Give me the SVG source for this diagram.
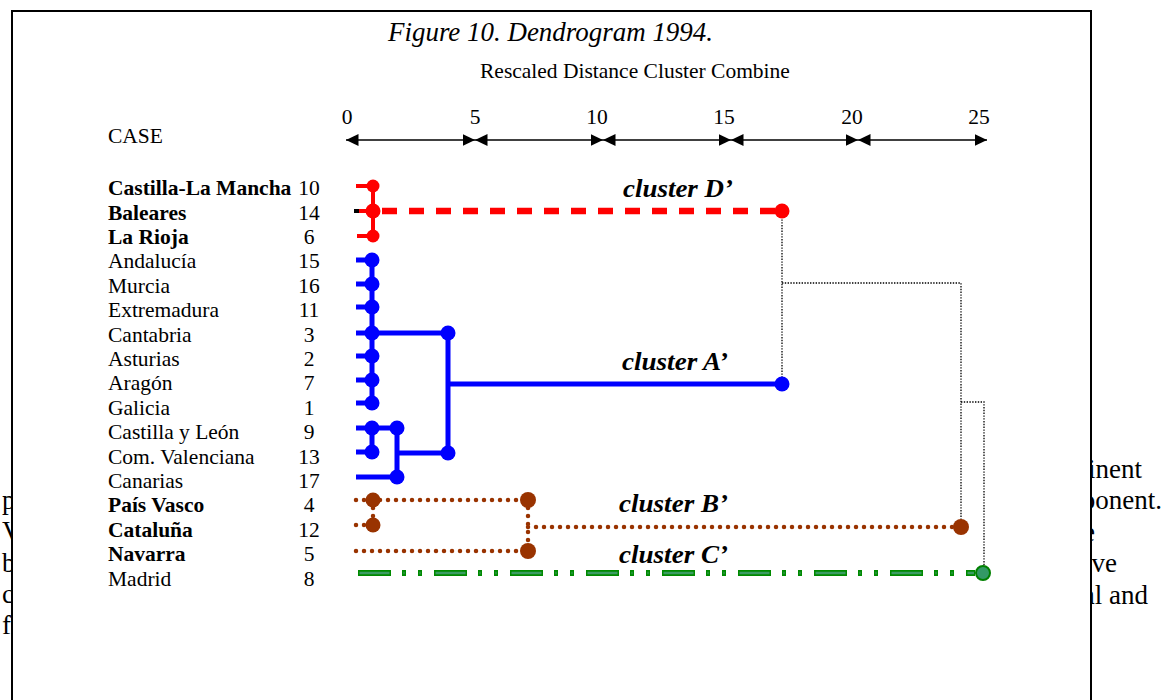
<svg xmlns="http://www.w3.org/2000/svg" width="1167" height="700" viewBox="0 0 1167 700">
<defs>
<style>
text{font-family:"Liberation Serif","Times New Roman",serif;fill:#000}
.bg{font-size:27px}
.lbl{font-size:21.5px}
.b{font-weight:bold}
.num{font-size:21.5px;text-anchor:middle}
.cl{font-size:25px;font-weight:bold;font-style:italic}
.ax{stroke:#000;stroke-width:1.6;fill:none;marker-start:url(#ah);marker-end:url(#ah)}
.blue{stroke:#0000ff;stroke-width:5;fill:none}
.bdot{fill:#0000ff}
.red{stroke:#ff0000;stroke-width:4;fill:none}
.rdot{fill:#ff0000}
.brown{stroke:#993300;stroke-width:4.5;fill:none;stroke-dasharray:0 8;stroke-linecap:round}
.brdot{fill:#993300}
.link{stroke:#000;stroke-width:1.3;fill:none;stroke-dasharray:1.4 1.4}
</style>
<marker id="ah" markerUnits="userSpaceOnUse" markerWidth="13" markerHeight="13" refX="12.5" refY="6.5" orient="auto-start-reverse" viewBox="0 0 13 13">
<path d="M0,0.5 L12.5,6.5 L0,12.5 z" fill="#000"/>
</marker>
</defs>
<rect width="1167" height="700" fill="#fff"/>
<g id="page-text" class="bg">
<text x="1142" y="478" text-anchor="end">inent</text>
<text x="2" y="509">p</text>
<text x="1162" y="509" text-anchor="end">ponent.</text>
<text x="2" y="540">V</text>
<text x="1083" y="541">e</text>
<text x="2" y="572">b</text>
<text x="1117" y="572" text-anchor="end">ve</text>
<text x="2" y="603">c</text>
<text x="1148" y="604" text-anchor="end">al and</text>
<text x="2" y="634">f</text>
</g>
<rect id="frame" x="12" y="11" width="1079" height="720" fill="#fff" stroke="#000" stroke-width="2"/>
<g id="titles">
<text x="388" y="41" style="font-size:26.5px;font-style:italic" textLength="325" lengthAdjust="spacingAndGlyphs">Figure 10. Dendrogram 1994.</text>
<text x="480" y="78" class="lbl">Rescaled Distance Cluster Combine</text>
<text x="108" y="143" class="lbl">CASE</text>
</g>
<g id="axis">
<line class="ax" x1="346" y1="140" x2="475" y2="140"/>
<line class="ax" x1="475" y1="140" x2="603" y2="140"/>
<line class="ax" x1="603" y1="140" x2="731" y2="140"/>
<line class="ax" x1="731" y1="140" x2="858" y2="140"/>
<line class="ax" x1="858" y1="140" x2="987" y2="140"/>
<text class="num" x="347" y="124">0</text>
<text class="num" x="475" y="124">5</text>
<text class="num" x="597" y="124">10</text>
<text class="num" x="724" y="124">15</text>
<text class="num" x="852" y="124">20</text>
<text class="num" x="979" y="124">25</text>
</g>
<g id="cases">
<g id="case-10"><text class="lbl b" x="108" y="195">Castilla-La Mancha</text><text class="num" x="309" y="195">10</text></g>
<g id="case-14"><text class="lbl b" x="108" y="219.6">Baleares</text><text class="num" x="309" y="219.6">14</text></g>
<g id="case-6"><text class="lbl b" x="108" y="244">La Rioja</text><text class="num" x="309" y="244">6</text></g>
<g id="case-15"><text class="lbl" x="108" y="268.3">Andalucía</text><text class="num" x="309" y="268.3">15</text></g>
<g id="case-16"><text class="lbl" x="108" y="292.7">Murcia</text><text class="num" x="309" y="292.7">16</text></g>
<g id="case-11"><text class="lbl" x="108" y="317.1">Extremadura</text><text class="num" x="309" y="317.1">11</text></g>
<g id="case-3"><text class="lbl" x="108" y="341.5">Cantabria</text><text class="num" x="309" y="341.5">3</text></g>
<g id="case-2"><text class="lbl" x="108" y="365.9">Asturias</text><text class="num" x="309" y="365.9">2</text></g>
<g id="case-7"><text class="lbl" x="108" y="390.3">Aragón</text><text class="num" x="309" y="390.3">7</text></g>
<g id="case-1"><text class="lbl" x="108" y="414.7">Galicia</text><text class="num" x="309" y="414.7">1</text></g>
<g id="case-9"><text class="lbl" x="108" y="439.1">Castilla y León</text><text class="num" x="309" y="439.1">9</text></g>
<g id="case-13"><text class="lbl" x="108" y="463.5">Com. Valenciana</text><text class="num" x="309" y="463.5">13</text></g>
<g id="case-17"><text class="lbl" x="108" y="487.9">Canarias</text><text class="num" x="309" y="487.9">17</text></g>
<g id="case-4"><text class="lbl b" x="108" y="512.3">País Vasco</text><text class="num" x="309" y="512.3">4</text></g>
<g id="case-12"><text class="lbl b" x="108" y="536.7">Cataluña</text><text class="num" x="309" y="536.7">12</text></g>
<g id="case-5"><text class="lbl b" x="108" y="561.1">Navarra</text><text class="num" x="309" y="561.1">5</text></g>
<g id="case-8"><text class="lbl" x="108" y="585.5">Madrid</text><text class="num" x="309" y="585.5">8</text></g>
</g>
<g id="connectors">
<polyline class="link" points="782,211 782,384"/>
<polyline class="link" points="782,283 961,283 961,527"/>
<polyline class="link" points="961,402 984,402 984,573"/>
</g>
<g id="cluster-D">
<line x1="354" y1="211" x2="360" y2="211" stroke="#000" stroke-width="4"/>
<path class="red" d="M356,186H373M359,211H373M357,236H373M373,186V236"/>
<line x1="382" y1="211" x2="776" y2="211" stroke="#ff0000" stroke-width="6.5" stroke-dasharray="15 12"/>
<circle class="rdot" cx="373" cy="186" r="6.5"/>
<circle class="rdot" cx="373" cy="211" r="7.5"/>
<circle class="rdot" cx="373" cy="236" r="6.5"/>
<circle class="rdot" cx="782" cy="211" r="7.5"/>
<text class="cl" x="623" y="197" textLength="110" lengthAdjust="spacingAndGlyphs">cluster D’</text>
</g>
<g id="cluster-A">
<path class="blue" d="M356,260H372M356,284H372M356,307H372M356,333H448M356,356H372M356,380H372M356,403H372M372,260V403"/>
<path class="blue" d="M356,428H397M356,452H372M372,428V452M356,477H397M397,428V477M397,453H448M448,333V453M448,384H782"/>
<g class="bdot">
<circle cx="372" cy="260" r="7.5"/><circle cx="372" cy="284" r="7.5"/><circle cx="372" cy="307" r="7.5"/>
<circle cx="372" cy="333" r="7.5"/><circle cx="372" cy="356" r="7.5"/><circle cx="372" cy="380" r="7.5"/>
<circle cx="372" cy="403" r="7.5"/><circle cx="448" cy="333" r="7.5"/>
<circle cx="372" cy="428" r="7.5"/><circle cx="397" cy="428" r="7.5"/><circle cx="372" cy="452" r="7.5"/>
<circle cx="397" cy="477" r="7.5"/><circle cx="448" cy="453" r="7.5"/><circle cx="782" cy="384" r="7.5"/>
</g>
<text class="cl" x="622" y="370" textLength="106" lengthAdjust="spacingAndGlyphs">cluster A’</text>
</g>
<g id="cluster-B">
<path class="brown" d="M356,500H528M356,525H373M373,500V525M356,551H528M528,500V551M528,527H961"/>
<g class="brdot">
<circle cx="373" cy="500" r="7.5"/><circle cx="373" cy="525" r="7.5"/>
<circle cx="528" cy="500" r="8"/><circle cx="528" cy="551" r="8"/><circle cx="961" cy="527" r="8"/>
</g>
<text class="cl" x="619" y="512" textLength="109" lengthAdjust="spacingAndGlyphs">cluster B’</text>
</g>
<g id="cluster-C">
<line x1="358" y1="573" x2="975" y2="573" stroke="#008a00" stroke-width="6" stroke-dasharray="33 11 4 12 4 12"/>
<line x1="359.5" y1="573" x2="974" y2="573" stroke="#3c9c64" stroke-width="2.4" stroke-dasharray="30 14 1 15 1 15"/>
<circle cx="983" cy="573" r="7" fill="#339966" stroke="#008000" stroke-width="2"/>
<text class="cl" x="619" y="563" textLength="109" lengthAdjust="spacingAndGlyphs">cluster C’</text>
</g>
</svg>
